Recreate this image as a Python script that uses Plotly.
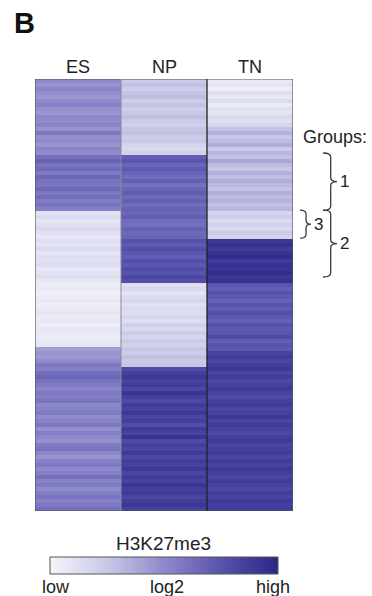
import plotly.graph_objects as go

W, H = 372, 596

columns = ["ES", "NP", "TN"]

es_values = [
    0.50, 0.46, 0.52, 0.48, 0.44, 0.50, 0.54, 0.47, 0.45, 0.51, 0.49, 0.53, 0.46, 0.58, 0.48, 0.50, 0.45, 0.52, 0.49,
    0.62, 0.68, 0.60, 0.64, 0.57, 0.66, 0.61, 0.59, 0.65, 0.58, 0.63, 0.56, 0.60, 0.54,
    0.10, 0.14, 0.09, 0.12, 0.16, 0.11, 0.08, 0.13, 0.10, 0.15, 0.09, 0.12, 0.11, 0.14, 0.08, 0.10, 0.13, 0.07,
    0.04, 0.06, 0.03, 0.05, 0.08, 0.04, 0.06, 0.09, 0.05, 0.07, 0.04, 0.08, 0.06, 0.05, 0.07, 0.09,
    0.42, 0.46, 0.44, 0.50, 0.58, 0.54, 0.62, 0.66, 0.60, 0.56, 0.52, 0.58, 0.55, 0.60, 0.50, 0.54, 0.57, 0.49,
    0.53, 0.59, 0.48, 0.55, 0.51, 0.47, 0.56, 0.60, 0.52, 0.46, 0.54, 0.58, 0.50, 0.55, 0.62, 0.53, 0.57, 0.49,
    0.56, 0.60, 0.54, 0.58, 0.62,
]

np_values = [
    0.24, 0.28, 0.22, 0.26, 0.30, 0.23, 0.27, 0.21, 0.25, 0.29, 0.24, 0.20, 0.26, 0.28, 0.22, 0.25, 0.18, 0.16, 0.20,
    0.70, 0.74, 0.66, 0.72, 0.68, 0.64, 0.70, 0.62, 0.67, 0.71, 0.65, 0.69, 0.63, 0.68, 0.66, 0.70, 0.64, 0.62, 0.68, 0.65, 0.67,
    0.76, 0.72, 0.78, 0.74, 0.70, 0.77, 0.73, 0.79, 0.75, 0.82, 0.78,
    0.12, 0.16, 0.10, 0.14, 0.18, 0.11, 0.15, 0.13, 0.17, 0.12, 0.20, 0.16, 0.22, 0.18, 0.24, 0.20, 0.26, 0.22, 0.28, 0.24, 0.26,
    0.80, 0.86, 0.90, 0.84, 0.88, 0.82, 0.92, 0.86, 0.80, 0.88, 0.84, 0.90, 0.82, 0.86, 0.78, 0.88, 0.84, 0.92,
    0.80, 0.86, 0.83, 0.89, 0.81, 0.87, 0.85, 0.90, 0.82, 0.88, 0.84, 0.91, 0.86, 0.89, 0.83, 0.87, 0.90, 0.85,
]

tn_values = [
    0.06, 0.10, 0.04, 0.12, 0.08, 0.14, 0.05, 0.11, 0.09, 0.16, 0.12, 0.18,
    0.28, 0.34, 0.26, 0.30, 0.36, 0.24, 0.32, 0.28, 0.38, 0.30, 0.26, 0.34, 0.29, 0.36, 0.31, 0.27, 0.35, 0.30, 0.33, 0.28, 0.32,
    0.18, 0.22, 0.15, 0.20, 0.16, 0.24, 0.19,
    0.90, 0.94, 0.88, 0.92, 0.96, 0.89, 0.93, 0.91, 0.95, 0.90, 0.94,
    0.74, 0.70, 0.76, 0.72, 0.68, 0.75, 0.71, 0.78, 0.73, 0.69, 0.76, 0.72, 0.74, 0.80, 0.70, 0.75, 0.73,
    0.84, 0.88, 0.82, 0.86, 0.90, 0.83, 0.87, 0.81, 0.85, 0.89, 0.84, 0.80, 0.86, 0.88, 0.82, 0.85, 0.90, 0.83, 0.87, 0.84,
    0.81, 0.86, 0.89, 0.83, 0.85, 0.88, 0.82, 0.87, 0.84, 0.90, 0.86, 0.83, 0.88, 0.85, 0.81, 0.87, 0.84, 0.89, 0.86, 0.88,
]

# group brackets: (label, first row, last row)
groups = [("1", 18.0, 32.3), ("3", 32.3, 39.3), ("2", 32.3, 49.0)]

colorbar_labels = ["low", "log2", "high"]

assert len(es_values) == len(np_values) == len(tn_values)
n_rows = len(es_values)

z = [[es_values[i], np_values[i], tn_values[i]] for i in range(n_rows)]

colorscale = [
    [0.0, "#f5f5fb"],
    [0.25, "#c9c8e7"],
    [0.5, "#8e8acb"],
    [0.75, "#5853ad"],
    [1.0, "#2b2686"],
]


def px(p):
    return p / W


def py(p):
    return (H - p) / H


FONT = "Liberation Sans, Arial, sans-serif"

fig = go.Figure()
fig.add_trace(
    go.Heatmap(
        z=z,
        x=[0, 1, 2],
        y=list(range(n_rows)),
        colorscale=colorscale,
        zmin=0,
        zmax=1,
        zsmooth=False,
        showscale=True,
        colorbar=dict(
            orientation="h",
            x=px(164),
            xanchor="center",
            y=py(565.5),
            yanchor="middle",
            lenmode="pixels",
            len=228,
            thickness=17,
            xpad=0,
            ypad=0,
            outlinewidth=1,
            outlinecolor="#555555",
            showticklabels=False,
            ticks="",
        ),
        hoverinfo="skip",
    )
)

shapes = []
# outer border
shapes.append(dict(type="rect", xref="x", yref="y", x0=-0.5, x1=2.5, y0=-0.5, y1=n_rows - 0.5,
                   line=dict(color="#555555", width=1.2)))
shapes.append(dict(type="line", xref="x", yref="y", x0=0.5, x1=0.5, y0=-0.5, y1=n_rows - 0.5,
                   line=dict(color="#8a8a96", width=1)))
shapes.append(dict(type="line", xref="x", yref="y", x0=1.5, x1=1.5, y0=-0.5, y1=n_rows - 0.5,
                   line=dict(color="#222222", width=1.3)))

annotations = []
brace_x = {"1": (323, 337), "3": (300, 311), "2": (323, 337)}
for label, r0, r1 in groups:
    x0, x1 = brace_x[label]
    xm = x0 + (x1 - x0) * 0.55
    rm = (r0 + r1) / 2
    e = 1.0
    X0, X1, XM = px(x0), px(x1), px(xm)
    path = (f"M {X0},{r0} Q {XM},{r0} {XM},{r0 + e} "
            f"L {XM},{rm - e} Q {XM},{rm} {X1},{rm} "
            f"Q {XM},{rm} {XM},{rm + e} "
            f"L {XM},{r1 - e} Q {XM},{r1} {X0},{r1}")
    shapes.append(dict(type="path", xref="paper", yref="y", path=path,
                       line=dict(color="#3a3a3a", width=1.3)))
    annotations.append(dict(text=label, x=px(x1 + 1), y=rm, xref="paper", yref="y",
                            xanchor="left", yanchor="middle", showarrow=False,
                            font=dict(family=FONT, size=17, color="#222222")))

for i, c in enumerate(columns):
    annotations.append(dict(text=c, x=i, y=py(67), xref="x", yref="paper",
                            xanchor="center", yanchor="middle", showarrow=False,
                            font=dict(family=FONT, size=18, color="#222222")))

annotations.append(dict(text="<b>B</b>", x=px(24), y=py(23), xref="paper", yref="paper",
                        xanchor="center", yanchor="middle", showarrow=False,
                        font=dict(family=FONT, size=29, color="#111111")))
annotations.append(dict(text="Groups:", x=px(335), y=py(137), xref="paper", yref="paper",
                        xanchor="center", yanchor="middle", showarrow=False,
                        font=dict(family=FONT, size=18, color="#222222")))
annotations.append(dict(text="H3K27me3", x=px(163), y=py(543), xref="paper", yref="paper",
                        xanchor="center", yanchor="middle", showarrow=False,
                        font=dict(family=FONT, size=19, color="#222222")))
for lab, xp in zip(colorbar_labels, [56, 167, 273]):
    annotations.append(dict(text=lab, x=px(xp), y=py(587), xref="paper", yref="paper",
                            xanchor="center", yanchor="middle", showarrow=False,
                            font=dict(family=FONT, size=18, color="#222222")))

fig.update_layout(
    width=W,
    height=H,
    margin=dict(l=0, r=0, t=0, b=0),
    paper_bgcolor="white",
    plot_bgcolor="white",
    xaxis=dict(domain=[px(35), px(293)], range=[-0.5, 2.5], showticklabels=False,
               showgrid=False, zeroline=False, ticks="", fixedrange=True),
    yaxis=dict(domain=[py(511), py(79)], range=[n_rows - 0.5, -0.5], showticklabels=False,
               showgrid=False, zeroline=False, ticks="", fixedrange=True),
    shapes=shapes,
    annotations=annotations,
    showlegend=False,
)

fig.write_html(
    "out.html",
    config={"displayModeBar": False, "staticPlot": True},
    post_script="document.body.style.margin='0';document.body.style.padding='0';",
)
